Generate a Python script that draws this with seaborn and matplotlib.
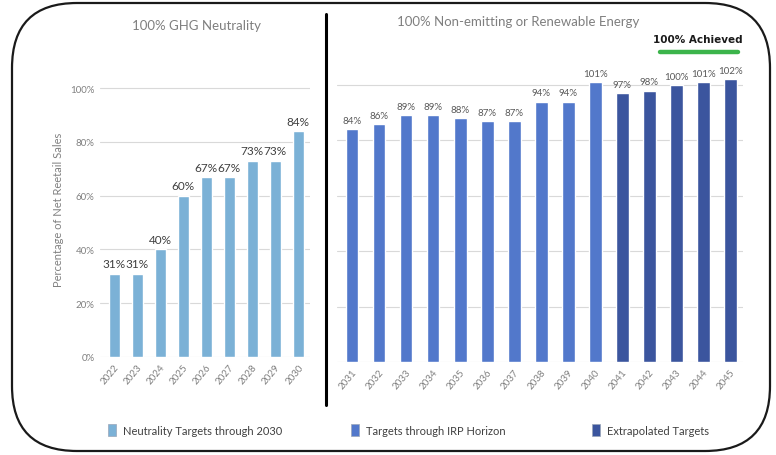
import matplotlib
matplotlib.use("Agg")
import matplotlib.pyplot as plt
from matplotlib.patches import FancyBboxPatch, Patch
from matplotlib.lines import Line2D
import seaborn as sns
import pandas as pd

# ---- data ----
neutral_years = ["2022", "2023", "2024", "2025", "2026", "2027", "2028", "2029", "2030"]
neutral_values = [31, 31, 40, 60, 67, 67, 73, 73, 84]

renew_years = ["2031", "2032", "2033", "2034", "2035", "2036", "2037", "2038",
               "2039", "2040", "2041", "2042", "2043", "2044", "2045"]
renew_values = [84, 86, 89, 89, 88, 87, 87, 94, 94, 101, 97, 98, 100, 101, 102]
renew_groups = ["Targets through IRP Horizon"] * 10 + ["Extrapolated Targets"] * 5

legend_labels = ["Neutrality Targets through 2030", "Targets through IRP Horizon", "Extrapolated Targets"]
colors = {"Neutrality Targets through 2030": "#7bb1d6",
          "Targets through IRP Horizon": "#5278cb",
          "Extrapolated Targets": "#3b559e"}

y_ticks = [0, 20, 40, 60, 80, 100]
Y_MAX = 115

sns.set_theme(style="white")
plt.rcParams["font.family"] = ["Lato", "DejaVu Sans"]

W, H = 776, 456
fig = plt.figure(figsize=(W / 100, H / 100), dpi=100)


def px_axes(x0, x1, y100, y0):
    """Axes whose 0 sits at pixel row y0 and whose 100 sits at pixel row y100."""
    per = (y0 - y100) / 100.0
    y_top = y0 - per * Y_MAX
    return fig.add_axes([x0 / W, 1 - y0 / H, (x1 - x0) / W, (y0 - y_top) / H])


grid_c = "#d9d9d9"
tick_c = "#808080"


def style_axes(ax, xlim):
    ax.set_xlim(*xlim)
    ax.set_ylim(0, Y_MAX)
    ax.set_yticks(y_ticks)
    ax.yaxis.grid(True, color=grid_c, lw=0.8, zorder=0)
    ax.set_xlabel("")
    for lab in ax.get_xticklabels():
        lab.set_rotation(50)
        lab.set_ha("right")
        lab.set_rotation_mode("anchor")
        lab.set_color(tick_c)
        lab.set_fontsize(7)
    ax.tick_params(length=0, pad=4)
    sns.despine(ax=ax, left=True, bottom=True)


# ---- left panel ----
axL = px_axes(100, 310, 89, 358)
dfL = pd.DataFrame({"year": neutral_years, "value": neutral_values,
                    "group": legend_labels[0]})
sns.barplot(data=dfL, x="year", y="value", hue="group", palette=colors,
            dodge=False, width=0.48, legend=False, ax=axL, saturation=1, zorder=3)
style_axes(axL, (-0.61, 8.52))
axL.set_yticklabels([f"{v}%" for v in y_ticks], color=tick_c, fontsize=7)
axL.set_ylabel("Percentage of Net Reetail Sales", color=tick_c, fontsize=8)
axL.yaxis.set_label_coords(-0.17, 0.48)
for c in axL.containers:
    axL.bar_label(c, labels=[f"{v}%" for v in neutral_values], padding=3,
                  fontsize=8.5, color="#404040")

# ---- right panel ----
axR = px_axes(337, 743, 86, 363)
dfR = pd.DataFrame({"year": renew_years, "value": renew_values, "group": renew_groups})
sns.barplot(data=dfR, x="year", y="value", hue="group", palette=colors,
            dodge=False, width=0.48, legend=False, ax=axR, saturation=1, zorder=3)
style_axes(axR, (-0.556, 14.48))
axR.set_yticklabels([])
axR.set_ylabel("")
for c in axR.containers:
    vals = [int(round(b.get_height())) for b in c]
    axR.bar_label(c, labels=[f"{v}%" for v in vals], padding=3,
                  fontsize=7, color="#595959")

# titles
fig.text(196 / W, 1 - 26 / H, "100% GHG Neutrality", ha="center", va="center",
         color="#7f7f7f", fontsize=9.5)
fig.text(518 / W, 1 - 22 / H, "100% Non-emitting or Renewable Energy", ha="center",
         va="center", color="#7f7f7f", fontsize=9.5)

# 100% achieved marker
fig.text(698 / W, 1 - 40 / H, "100% Achieved", ha="center", va="center",
         color="#1a1a1a", fontsize=7.5, fontweight="bold", family=["DejaVu Sans"])
fig.add_artist(Line2D([660 / W, 738 / W], [1 - 53 / H, 1 - 53 / H],
                      color="#3cb44b", lw=3.2, transform=fig.transFigure))

# divider
fig.add_artist(Line2D([326 / W, 326 / W], [1 - 15 / H, 1 - 406 / H],
                      color="black", lw=2.2, transform=fig.transFigure))

# rounded frame
frame = FancyBboxPatch((12 / 100, 4 / 100), (770 - 12) / 100, (452 - 4) / 100,
                       boxstyle="round,pad=0,rounding_size=0.65",
                       transform=fig.dpi_scale_trans, fill=False,
                       edgecolor="#1a1a1a", lw=1.6)
fig.add_artist(frame)

# legend entries
legend_pos = [107, 350, 591]
for lbl, xp in zip(legend_labels, legend_pos):
    fig.legend(handles=[Patch(facecolor=colors[lbl], edgecolor="#9aa6b8", lw=0.5, label=lbl)],
               loc="center left", bbox_to_anchor=(xp / W - 0.012, 1 - 431 / H),
               frameon=False, fontsize=8, handlelength=0.75, handleheight=1.4,
               handletextpad=0.6, labelcolor="#404040")

fig.savefig("out.png", dpi=100)
